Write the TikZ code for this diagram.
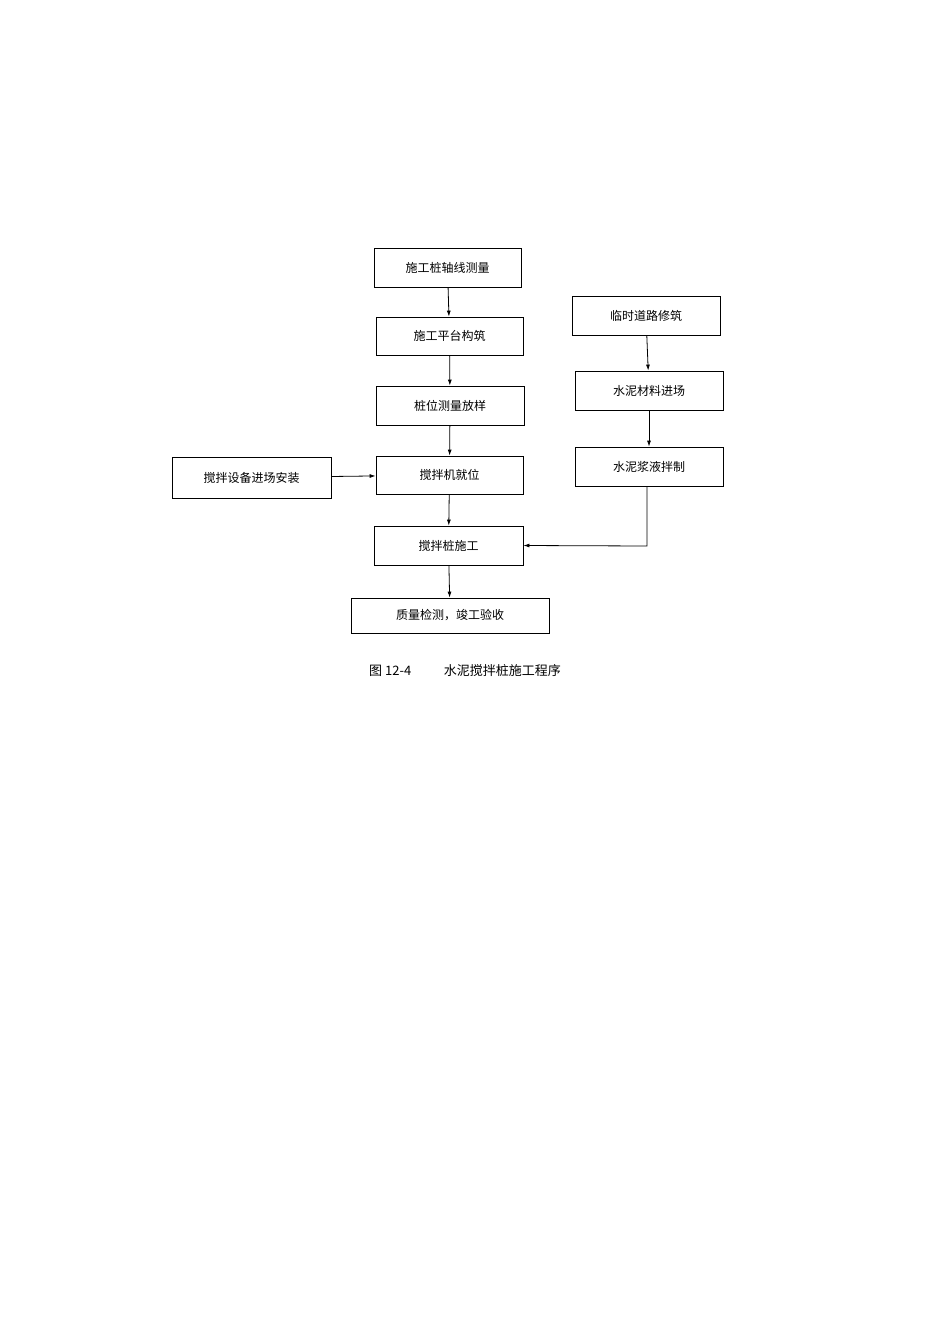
\documentclass[tikz,border=0pt]{standalone}
\usepackage{fontspec}
\setmainfont{Noto Sans CJK SC}
\usetikzlibrary{arrows.meta}
\begin{document}
\begin{tikzpicture}[x=1pt,y=-1pt,
  box/.style={draw,line width=0.8pt,inner sep=0pt,font=\fontsize{12}{14}\selectfont},
  arr/.style={-{Latex[length=6pt,width=4pt]},line width=0.8pt}]
\useasboundingbox (0,0) rectangle (950,1344);
\newcommand\bx[6]{\node[box,minimum width=#4-#2,minimum height=#5-#3] (#1) at ({(#2+#4)/2},{(#3+#5)/2}) {#6};}
\bx{a}{374}{248}{521}{287}{施工桩轴线测量}
\bx{b}{376}{317}{523}{355}{施工平台构筑}
\bx{c}{376}{386}{524}{425}{桩位测量放样}
\bx{d}{376}{456}{523}{494}{搅拌机就位}
\bx{e}{374}{526}{523}{565}{搅拌桩施工}
\bx{f}{351}{598}{549}{633}{质量检测，竣工验收}
\bx{g}{572}{296}{720}{335}{临时道路修筑}
\bx{h}{575}{371}{723}{410}{水泥材料进场}
\bx{i}{575}{447}{723}{486}{水泥浆液拌制}
\bx{j}{172}{457}{331}{498}{搅拌设备进场安装}
\draw[arr] (a) -- (b);
\draw[arr] (b) -- (c);
\draw[arr] (c) -- (d);
\draw[arr] (d) -- (e);
\draw[arr] (e) -- (f);
\draw[arr] (g) -- (h);
\draw[arr] (h) -- (i);
\draw[arr] (j) -- (d);
\coordinate (k) at (647,546);
\draw[arr] (i.south -| k) -- (k) -- (e.east);
\node[font=\fontsize{13}{15}\selectfont] (cap) at (465,671) {图 12-4\hspace{2.5em}水泥搅拌桩施工程序};
\end{tikzpicture}
\end{document}
